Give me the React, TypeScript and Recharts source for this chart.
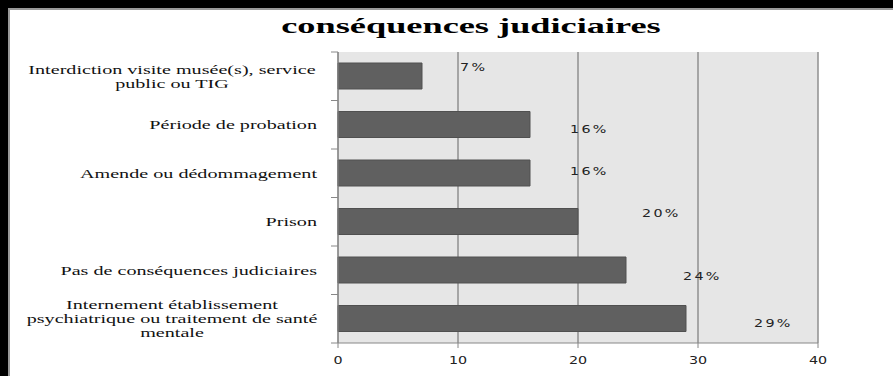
import React from 'react'
import { BarChart, Bar, XAxis, YAxis, CartesianGrid, LabelList } from 'recharts'

const categories = [
  'Interdiction visite musée(s), service\npublic ou TIG',
  'Période de probation',
  'Amende ou dédommagement',
  'Prison',
  'Pas de conséquences judiciaires',
  'Internement établissement\npsychiatrique ou traitement de santé\nmentale',
]
const values = [7, 16, 16, 20, 24, 29]
const valueLabels = ['7%', '16%', '16%', '20%', '24%', '29%']
const xTicks = [0, 10, 20, 30, 40]

// the labels were dragged by hand in the source sheet: dx from bar end, dy from bar middle
const labelNudge = [
  [38, -9],
  [40, 5],
  [40, -2],
  [64, -8],
  [57, 6],
  [68, 5],
]

const data = categories.map((name, i) => ({ name, value: values[i], label: valueLabels[i] }))

const W = 893
const H = 376
const PLOT_LEFT = 338
const PLOT_TOP = 52
const PLOT_BOTTOM = 343
const BAND = (PLOT_BOTTOM - PLOT_TOP) / categories.length
const STRETCH = 1.55

function CategoryTick(props: any) {
  const { y, payload, index } = props
  const lines = String(payload.value).split('\n')
  const multi = lines.length > 1
  const cx = multi ? 172 : 317
  const y0 = y - ((lines.length - 1) * 14) / 2
  return (
    <g>
      <line x1={PLOT_LEFT - 7} x2={PLOT_LEFT} y1={y - BAND / 2} y2={y - BAND / 2} stroke="#888" />
      {index === categories.length - 1 && (
        <line x1={PLOT_LEFT - 7} x2={PLOT_LEFT} y1={y + BAND / 2} y2={y + BAND / 2} stroke="#888" />
      )}
      <g transform={`translate(${cx},${y0}) scale(${STRETCH},1)`}>
        <text
          textAnchor={multi ? 'middle' : 'end'}
          fontFamily="Liberation Serif"
          fontSize={13}
          fill="#111"
        >
          {lines.map((l, i) => (
            <tspan key={i} x={0} y={i * 14} dy="0.35em">
              {l}
            </tspan>
          ))}
        </text>
      </g>
    </g>
  )
}

function ValueTick(props: any) {
  const { x, y, payload } = props
  return (
    <g transform={`translate(${x},${y}) scale(1.3,1)`}>
      <text textAnchor="middle" dy="0.71em" fontFamily="DejaVu Sans" fontSize={11} fill="#222">
        {payload.value}
      </text>
    </g>
  )
}

function PctLabel(props: any) {
  const vb = props.viewBox || props
  const x = vb.x ?? props.x
  const y = vb.y ?? props.y
  const width = vb.width ?? props.width
  const height = vb.height ?? props.height
  const index = props.index ?? 0
  const [dx, dy] = labelNudge[index] || [10, 0]
  return (
    <g transform={`translate(${x + width + dx},${y + height / 2 + dy}) scale(1.3,1)`}>
      <text dominantBaseline="central" fontFamily="DejaVu Sans" fontSize={11} fill="#222" letterSpacing={1.8}>
        {props.value}
      </text>
    </g>
  )
}

export default function App() {
  return (
    <div style={{ position: 'fixed', left: 0, top: 0, width: W, height: H, background: '#fff', overflow: 'hidden' }}>
      <BarChart
        width={W}
        height={H}
        data={data}
        layout="vertical"
        margin={{ top: PLOT_TOP, right: W - 818, bottom: 8, left: 10 }}
        barCategoryGap={0}
      >
        <CartesianGrid horizontal={false} fill="#e6e6e6" stroke="#8f8f8f" strokeWidth={1.5} />
        <XAxis
          type="number"
          domain={[0, 40]}
          ticks={xTicks}
          height={25}
          tickSize={5}
          tickMargin={8}
          stroke="#888"
          tick={<ValueTick />}
          interval={0}
        />
        <YAxis
          type="category"
          dataKey="name"
          width={PLOT_LEFT - 10}
          tickLine={false}
          stroke="#888"
          tick={<CategoryTick />}
          interval={0}
        />
        <Bar dataKey="value" fill="#606060" stroke="#505050" barSize={26} isAnimationActive={false}>
          <LabelList dataKey="label" content={<PctLabel />} />
        </Bar>
      </BarChart>
      <div
        style={{
          position: 'absolute',
          left: 471,
          top: 13,
          transform: 'translateX(-50%) scaleX(1.65)',
          fontFamily: 'Liberation Serif',
          fontWeight: 'bold',
          fontSize: 22,
          whiteSpace: 'nowrap',
          color: '#000',
        }}
      >
        conséquences judiciaires
      </div>
      <div style={{ position: 'absolute', left: 0, top: 0, width: W, height: 8, background: '#000' }} />
      <div style={{ position: 'absolute', left: 0, top: 8, width: W, height: 2, background: '#999' }} />
      <div style={{ position: 'absolute', left: 0, top: 0, width: 8, height: H, background: '#000' }} />
      <div style={{ position: 'absolute', left: 8, top: 8, width: 2, height: H, background: '#999' }} />
    </div>
  )
}
